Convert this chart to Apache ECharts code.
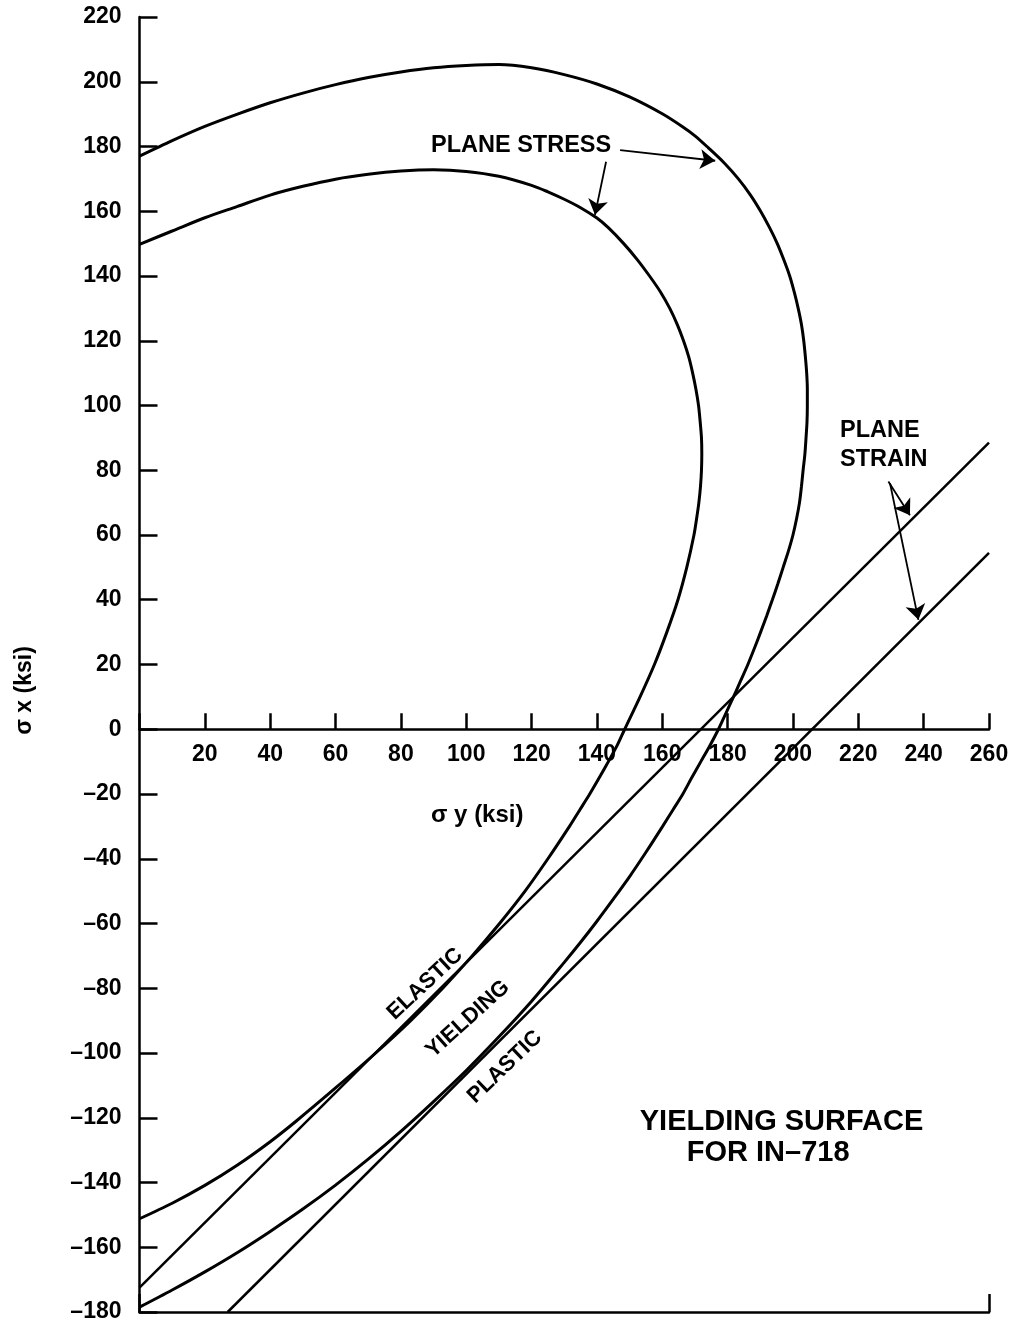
<!DOCTYPE html>
<html>
<head>
<meta charset="utf-8">
<script src="https://cdn.jsdelivr.net/npm/echarts@6/dist/echarts.min.js"></script>
<style>
html,body{margin:0;padding:0;background:#fff;}
#chart{width:1016px;height:1322px;}
</style>
</head>
<body>
<div id="chart"></div>
<script>
// ---- axis ranges / ticks ----
const xTicks = [0,20,40,60,80,100,120,140,160,180,200,220,240,260];
const yTicks = [-180,-160,-140,-120,-100,-80,-60,-40,-20,0,20,40,60,80,100,120,140,160,180,200,220];

// ---- plane stress yield curves [sigma_y, sigma_x] (ksi) ----
const elasticCurve = [
  [0,149.8],[10,153.9],[20,158],[30,161.5],[40,165],[50,167.7],[60,169.9],[70,171.4],
  [80,172.4],[90,172.8],[100,172.3],[110,170.8],[120,168],[125,166],[130,163.7],[135,161.1],
  [140,157.9],[143.4,155],[148.2,150],[152.4,145],[156.1,140],[159.5,135],[162.3,130],
  [164.6,125],[166.5,120],[168.1,115],[169.3,110],[170.3,105],[171.1,100],[171.6,95],
  [172,90],[172.1,85],[172,80],[171.7,75],[171.2,70],[170.5,65],[169.7,60],[167.5,50],
  [164.8,40],[161.4,30],[157.6,20],[153.2,10],[148.5,0],[146.2,-5],[143.5,-10],[140.7,-15],
  [137.8,-20],[134.7,-25],[131.6,-30],[125,-40],[118,-50],[110.2,-60],[101.8,-70],
  [92.8,-80],[83,-90],[72.3,-100],[60,-110.8],[48,-121],[40,-127.4],[30,-134.6],[20,-140.9],
  [10,-146.4],[0,-151.2]
];
const plasticCurve = [
  [0,177],[10,181.8],[20,186.2],[30,190],[40,193.5],[50,196.5],[60,199.1],[70,201.3],
  [80,203],[90,204.3],[100,205],[110,205.3],[120,204.3],[130,202.2],[140,199.3],[150,195.3],
  [160,190.1],[166.2,186.1],[170,183.3],[174.1,179.6],[178.9,175],[183.3,170],[187,165],
  [190.1,160],[192.8,155],[195.2,150],[197.2,145],[199,140],[200.4,135],[201.6,130],
  [202.6,125],[203.3,120],[203.8,115],[204.2,110],[204.4,105],[204.4,100],[204.3,95],
  [204,90],[203.65,85],[203.1,80],[202.6,75],[202,70],[201.1,65],[200,60],[198.6,55],
  [197,50],[195.4,45],[193.7,40],[191.95,35],[190.1,30],[188.2,25],[186.2,20],[184,15],
  [181.8,10],[179.5,5],[177.2,0],[174.6,-5],[171.8,-10],[169,-15],[166.3,-20],[163.2,-25],
  [160.1,-30],[155,-38],[150,-45.5],[145,-52.5],[140,-59.3],[135,-65.8],[130,-72],
  [120,-84],[110,-95],[100,-105.4],[90,-115],[80,-124.2],[70,-132.8],[60,-140.8],
  [50,-148.2],[40,-155.1],[30,-161.6],[20,-167.6],[10,-173.2],[0,-178.5]
];

// ---- plane strain lines ----
const strainUpper = [[0,-172.5],[260,88.5]];
const strainLower = [[27,-180],[260,54.5]];

// ---- annotation texts and leader arrows ----
const labelTexts = ['PLANE STRESS','PLANE','STRAIN','ELASTIC','YIELDING','PLASTIC','YIELDING SURFACE','FOR IN\u2013718'];
const labelAnchors = [[116.8,180.2],[214.4,92.4],[214.4,83.2],[87.4,-78.7],[100.5,-89.5],[111.8,-104.3],[196.5,-121.2],[192.4,-130.9]];
const labelRotations = [0,0,0,43,42,44,0,0];
const labelAligns = ['center','left','left','center','center','center','center','center'];
const labelSizes = [23.5,23.5,23.5,22,22,22,29,29];
const arrowSegments = [
  [[147.1,178.9],[176.2,175.6]],
  [[142.8,175.3],[139.4,158.9]],
  [[229.2,76.5],[235.8,66.1]],
  [[229.7,76.0],[238.4,33.8]]
];

const FONT = '"Liberation Sans", Arial, Helvetica, sans-serif';
const fmt = v => (v < 0 ? '\u2013' + (-v) : String(v));

// grid geometry (pixels)
const GRID_TOP = 17, GRID_H = 1295, GRID_LEFT = 139.5, GRID_RIGHT = 27;
const yMin = yTicks[0], yMax = yTicks[yTicks.length - 1];
const zeroOffset = -GRID_H * (0 - yMin) / (yMax - yMin); // move x axis up to sigma_x = 0

const chart = echarts.init(document.getElementById('chart'), null, {renderer:'canvas'});

const annData = labelTexts.map((t, i) => ({
  value: labelAnchors[i],
  name: t,
  label: {rotate: labelRotations[i], align: labelAligns[i], fontSize: labelSizes[i]}
}));

const option = {
  animation: false,
  backgroundColor: '#fff',
  grid: {left: GRID_LEFT, right: GRID_RIGHT, top: GRID_TOP, height: GRID_H,
         containLabel: false, outerBoundsMode: 'none'},
  xAxis: [{
    type: 'value',
    position: 'bottom',
    offset: zeroOffset,
    min: xTicks[0], max: xTicks[xTicks.length-1], interval: 20,
    axisLine: {show: true, onZero: false, lineStyle: {color:'#000', width: 2.5}},
    axisTick: {show: true, inside: true, length: 16, lineStyle: {color:'#000', width: 2.5}},
    axisLabel: {
      show: true, margin: 14, color:'#000', fontFamily: FONT, fontWeight:'bold', fontSize: 23,
      formatter: v => (v === 0 ? '' : fmt(v))
    },
    splitLine: {show: false},
    name: '\u03c3 y (ksi)',
    nameLocation: 'middle',
    nameGap: 74,
    nameTextStyle: {color:'#000', fontFamily: FONT, fontWeight:'bold', fontSize: 24, padding: [0, 174, 0, 0]}
  },{
    type: 'value',
    position: 'bottom',
    min: 0, max: 260, interval: 260,
    axisLine: {show: true, onZero: false, lineStyle: {color:'#000', width: 2.5}},
    axisTick: {show: true, inside: true, length: 18, lineStyle: {color:'#000', width: 2.5}},
    axisLabel: {show: false},
    splitLine: {show: false}
  }],
  yAxis: {
    type: 'value',
    min: yMin, max: yMax, interval: 20,
    axisLine: {show: true, onZero: false, lineStyle: {color:'#000', width: 2.5}},
    axisTick: {show: true, inside: true, length: 18, lineStyle: {color:'#000', width: 2.5}},
    axisLabel: {show: true, margin: 18, color:'#000', fontFamily: FONT, fontWeight:'bold', fontSize: 23, formatter: fmt},
    splitLine: {show: false},
    name: '\u03c3 x (ksi)',
    nameLocation: 'middle',
    nameRotate: 90,
    nameGap: 103,
    nameTextStyle: {color:'#000', fontFamily: FONT, fontWeight:'bold', fontSize: 23, padding: [0, 52, 0, 0]}
  },
  series: [
    {type:'line', name:'Plane stress (elastic)', data: elasticCurve, symbol:'none', smooth: 0.3,
     lineStyle:{color:'#000', width:3}, z: 3},
    {type:'line', name:'Plane stress (plastic)', data: plasticCurve, symbol:'none', smooth: 0.3,
     lineStyle:{color:'#000', width:3}, z: 3},
    {type:'line', name:'Plane strain (elastic)', data: strainUpper, symbol:'none',
     lineStyle:{color:'#000', width:2.5}, z: 3},
    {type:'line', name:'Plane strain (plastic)', data: strainLower, symbol:'none',
     lineStyle:{color:'#000', width:2.5}, z: 3},
    {type:'lines', coordinateSystem:'cartesian2d', polyline:false,
     symbol:['none','arrow'], symbolSize:[9,15],
     lineStyle:{color:'#000', width:1.8, opacity:1, curveness:0},
     itemStyle:{color:'#000'},
     data: arrowSegments.map(s => ({coords: s})), z: 4},
    {type:'scatter', name:'labels', data: annData, symbolSize: 1,
     itemStyle:{color:'rgba(0,0,0,0)', opacity: 1},
     label:{show:true, position:'inside', formatter: p => p.name, color:'#000', opacity: 1,
            fontFamily: FONT, fontWeight:'bold', verticalAlign:'middle'},
     emphasis:{disabled:true}, z: 5}
  ]
};
chart.setOption(option);
</script>
</body>
</html>
